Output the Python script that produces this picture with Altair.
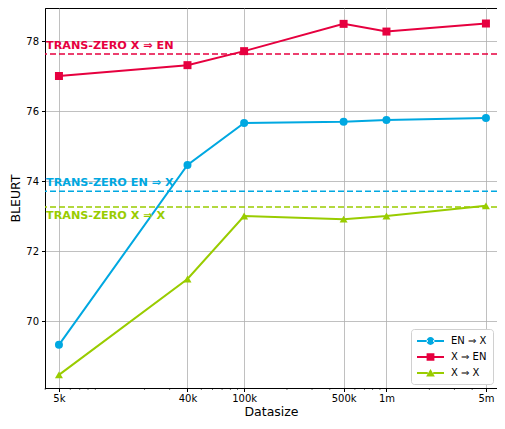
import altair as alt
import pandas as pd

sizes = [5000, 40000, 100000, 500000, 1000000, 5000000]
size_labels = ["5k", "40k", "100k", "500k", "1m", "5m"]
series_names = ["EN ⇒ X", "X ⇒ EN", "X ⇒ X"]
en_x = [69.32, 74.46, 75.66, 75.69, 75.74, 75.80]
x_en = [77.00, 77.31, 77.71, 78.49, 78.27, 78.50]
x_x = [68.46, 71.20, 73.00, 72.91, 73.00, 73.29]
baseline_labels = ["TRANS-ZERO EN ⇒ X", "TRANS-ZERO X ⇒ EN", "TRANS-ZERO X ⇒ X"]
baseline_values = [73.71, 77.63, 73.26]
colors = ["#00A8E1", "#E6003F", "#99CC00"]
minor_ticks = [4000, 6000, 7000, 8000, 9000, 20000, 30000, 50000, 60000, 70000,
               80000, 90000, 200000, 300000, 400000, 600000, 700000, 800000,
               900000, 2000000, 3000000, 4000000]

rows = []
for name, vals in zip(series_names, [en_x, x_en, x_x]):
    for s, v in zip(sizes, vals):
        rows.append({"size": s, "bleurt": v, "series": name})
df = pd.DataFrame(rows)
base_df = pd.DataFrame({"label": baseline_labels, "value": baseline_values,
                        "series": series_names})

FONT = "DejaVu Sans"
W, H = 452, 380
xscale = alt.Scale(type="log", domain=[3990, 5980000], nice=False)
yscale = alt.Scale(domain=[68.086, 78.943], nice=False, zero=False)
cscale = alt.Scale(domain=series_names, range=colors)
label_map = "{" + ",".join(f"'{s}':'{l}'" for s, l in zip(sizes, size_labels)) + "}"
label_expr = label_map + "[''+datum.value]"

x_enc = alt.X("size:Q", scale=xscale, title="Datasize",
              axis=alt.Axis(values=sizes, labelExpr=label_expr, grid=True,
                            gridColor="#b0b0b0", gridWidth=0.8,
                            domainColor="black", tickColor="black",
                            tickSize=3.5, labelPadding=2, labelFontSize=10,
                            labelFont=FONT, labelColor="black",
                            titleFont=FONT, titleFontSize=12.5,
                            titleFontWeight="normal", titleColor="black",
                            titlePadding=2, labelFlush=False))
y_enc = alt.Y("bleurt:Q", scale=yscale, title="BLEURT",
              axis=alt.Axis(values=[70, 72, 74, 76, 78], grid=True,
                            gridColor="#b0b0b0", gridWidth=0.8,
                            domainColor="black", tickColor="black",
                            tickSize=3.5, labelPadding=3, labelFontSize=10,
                            labelFont=FONT, labelColor="black",
                            titleFont=FONT, titleFontSize=12.5,
                            titleFontWeight="normal", titleColor="black",
                            titlePadding=3))

# legend carrier layer (invisible marks; legend symbols forced opaque)
p_circle = ("M-1,-0.15H0.8V0.15H-1Z M1.7,-0.15H3.5V0.15H1.7Z "
            "M1.9,0 A0.65,0.65 0 1,0 0.6,0 A0.65,0.65 0 1,0 1.9,0 Z")
p_square = ("M-1,-0.15H0.8V0.15H-1Z M1.7,-0.15H3.5V0.15H1.7Z "
            "M0.6,-0.62H1.9V0.62H0.6Z")
p_tri = ("M-1,-0.15H0.8V0.15H-1Z M1.7,-0.15H3.5V0.15H1.7Z "
         "M1.25,-0.68L1.98,0.6H0.52Z")
legend_layer = alt.Chart(df).mark_point(filled=True, opacity=0).encode(
    x=x_enc, y=y_enc,
    color=alt.Color("series:N", scale=cscale, title=None,
                    legend=alt.Legend(orient="bottom-right")),
    shape=alt.Shape("series:N", title=None,
                    scale=alt.Scale(domain=series_names,
                                    range=[p_circle, p_square, p_tri])),
)

shapes = ["circle", "square", "triangle-up"]
dys = [-3, -3, 3]
layers = [legend_layer]
for name, col in zip(series_names, colors):
    layers.append(
        alt.Chart(base_df).transform_filter(alt.datum.series == name)
        .mark_rule(strokeWidth=1.5, strokeDash=[6, 3], color=col)
        .encode(y="value:Q")
    )
for name, col in zip(series_names, colors):
    layers.append(
        alt.Chart(df).transform_filter(alt.datum.series == name)
        .mark_line(strokeWidth=2, color=col)
        .encode(x="size:Q", y="bleurt:Q")
    )
for name, col, shp in zip(series_names, colors, shapes):
    layers.append(
        alt.Chart(df).transform_filter(alt.datum.series == name)
        .mark_point(filled=True, shape=shp, size=64, opacity=1, color=col)
        .encode(x="size:Q", y="bleurt:Q")
    )
for name, col, dy in zip(series_names, colors, dys):
    layers.append(
        alt.Chart(base_df).transform_filter(alt.datum.series == name)
        .mark_text(align="left", baseline="bottom" if dy < 0 else "top",
                   dy=dy, font=FONT, fontSize=11.2, fontWeight="bold", color=col)
        .encode(x=alt.value(1), y="value:Q", text="label:N")
    )

minor = alt.Chart(pd.DataFrame({"m": minor_ticks})).mark_tick(
    orient="vertical", color="black", thickness=0.8, size=2,
).encode(x="m:Q", y=alt.value(H + 1))
layers.append(minor)

chart = alt.layer(*layers).properties(
    width=W, height=H,
    autosize=alt.AutoSizeParams(type="none"),
    padding={"left": 37, "top": 0, "right": 0, "bottom": 33},
).configure_view(
    stroke="black", strokeWidth=1
).configure_legend(
    symbolSize=144, symbolOpacity=1, labelOffset=22, labelFont=FONT,
    labelFontSize=10, labelColor="black", strokeColor="#d0d0d0",
    fillColor="white", cornerRadius=3, padding=6, rowPadding=5, offset=4,
    symbolStrokeWidth=0,
)

chart.save("out.html", embed_options={"renderer": "svg", "actions": False})
